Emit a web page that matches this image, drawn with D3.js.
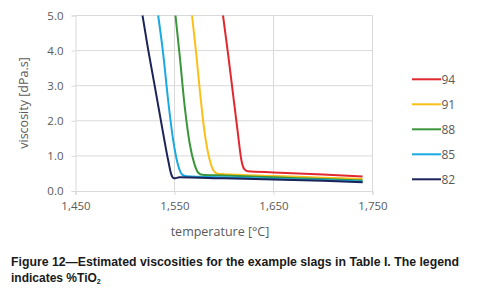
<!DOCTYPE html>
<html>
<head>
<meta charset="utf-8">
<script src="https://cdn.jsdelivr.net/npm/d3@7"></script>
<style>
  body { margin: 0; background: #fff; }
  svg { display: block; }
</style>
</head>
<body>
<svg id="chart" width="477" height="302"></svg>
<script>
// %TiO2 series, legend order top to bottom
const seriesNames = ["94", "91", "88", "85", "82"];
const seriesColors = ["#e0282e", "#fbbf1a", "#3a963a", "#1aa9e0", "#1b2358"];

// [temperature °C, viscosity dPa.s]
const s94 = [[1599, 5.0], [1604, 3.93], [1609, 2.79], [1614, 1.65], [1617.5, 0.89], [1620.5, 0.62], [1624, 0.56], [1650, 0.53], [1700, 0.47], [1740, 0.41]];
const s91 = [[1567.7, 5.0], [1572.2, 3.84], [1575.5, 2.89], [1580.5, 1.65], [1585.5, 0.89], [1590, 0.56], [1594, 0.49], [1600, 0.48], [1650, 0.43], [1700, 0.38], [1740, 0.34]];
const s88 = [[1551, 5.0], [1555.3, 3.84], [1560.3, 2.41], [1565.3, 1.36], [1570, 0.78], [1574, 0.52], [1578, 0.46], [1600, 0.44], [1650, 0.39], [1700, 0.34], [1740, 0.30]];
const s85 = [[1533.5, 5.0], [1538.5, 3.93], [1543.5, 2.6], [1548.6, 1.46], [1553.5, 0.75], [1558, 0.46], [1562, 0.42], [1600, 0.39], [1650, 0.35], [1700, 0.31], [1740, 0.27]];
const s82 = [[1517.7, 5.0], [1523.4, 4.03], [1530.1, 2.98], [1538.5, 1.65], [1543.5, 0.89], [1547, 0.45], [1549.5, 0.36], [1555, 0.39], [1600, 0.36], [1650, 0.33], [1700, 0.29], [1740, 0.25]];
const seriesData = [s94, s91, s88, s85, s82];

const xTicks = [1450, 1550, 1650, 1750];
const yTicks = [0, 1, 2, 3, 4, 5];

const svg = d3.select("#chart");
const mLeft = 75.5, mRight = 372.5, mTop = 15.5, mBottom = 191;

const x = d3.scaleLinear().domain([1450, 1750]).range([mLeft, mRight]);
const y = d3.scaleLinear().domain([0, 5]).range([mBottom, mTop]);

const axisColor = "#d9d9d9";
const textColor = "#595959";
const font = "'Open Sans', 'Liberation Sans', sans-serif";

// gridlines
const grid = svg.append("g");
grid.selectAll("line.h")
    .data(yTicks.filter(d => d > 0))
    .enter().append("line")
    .attr("x1", mLeft).attr("x2", mRight)
    .attr("y1", d => y(d)).attr("y2", d => y(d))
    .attr("stroke", axisColor).attr("stroke-width", 1);
grid.selectAll("line.v")
    .data(xTicks.filter(d => d > 1450))
    .enter().append("line")
    .attr("x1", d => x(d)).attr("x2", d => x(d))
    .attr("y1", mTop).attr("y2", mBottom)
    .attr("stroke", axisColor).attr("stroke-width", 1);

// axes
const xAxis = svg.append("g")
    .attr("transform", `translate(0,${mBottom})`)
    .call(d3.axisBottom(x).tickValues(xTicks).tickSize(4).tickPadding(7)
        .tickFormat(d3.format(",")));
const yAxis = svg.append("g")
    .attr("transform", `translate(${mLeft},0)`)
    .call(d3.axisLeft(y).tickValues(yTicks).tickSize(4).tickPadding(8)
        .tickFormat(d3.format(".1f")));

[xAxis, yAxis].forEach(a => {
    a.select(".domain").attr("stroke", axisColor);
    a.selectAll(".tick line").attr("stroke", axisColor);
    a.selectAll(".tick text")
        .attr("fill", textColor)
        .style("font-family", font)
        .style("font-size", "11.5px");
});

// lines
const line = d3.line()
    .x(d => x(d[0]))
    .y(d => y(d[1]))
    .curve(d3.curveMonotoneX);

svg.append("g")
    .selectAll("path")
    .data(seriesData)
    .enter().append("path")
    .attr("d", line)
    .attr("fill", "none")
    .attr("stroke", (d, i) => seriesColors[i])
    .attr("stroke-width", 2)
    .attr("stroke-linejoin", "round");

// legend
const legend = svg.append("g");
const lg = legend.selectAll("g")
    .data(seriesNames)
    .enter().append("g")
    .attr("transform", (d, i) => `translate(412,${79.3 + i * 25})`);
lg.append("line")
    .attr("x1", 0).attr("x2", 29)
    .attr("stroke", (d, i) => seriesColors[i])
    .attr("stroke-width", 2);
lg.append("text")
    .attr("x", 29.5).attr("dy", "0.35em")
    .attr("fill", textColor)
    .style("font-family", font)
    .style("font-size", "12px")
    .text(d => d);

// axis titles
svg.append("text")
    .attr("x", 220).attr("y", 236)
    .attr("text-anchor", "middle")
    .attr("fill", textColor)
    .style("font-family", font)
    .style("font-size", "12.5px")
    .text("temperature [°C]");

svg.append("text")
    .attr("transform", "translate(28,103) rotate(-90)")
    .attr("text-anchor", "middle")
    .attr("fill", textColor)
    .style("font-family", font)
    .style("font-size", "12.5px")
    .text("viscosity [dPa.s]");

// caption
const cap = svg.append("g")
    .style("font-family", "'Liberation Sans', Arial, sans-serif")
    .style("font-weight", "bold")
    .style("font-size", "12px")
    .attr("fill", "#1a1a1a");
cap.append("text")
    .attr("x", 11).attr("y", 266)
    .attr("textLength", 448)
    .attr("lengthAdjust", "spacingAndGlyphs")
    .text("Figure 12\u2014Estimated viscosities for the example slags in Table I. The legend");
const l2 = cap.append("text")
    .attr("x", 11).attr("y", 282);
l2.append("tspan").text("indicates %TiO");
l2.append("tspan").attr("dy", 2).style("font-size", "7px").text("2");
</script>
</body>
</html>
